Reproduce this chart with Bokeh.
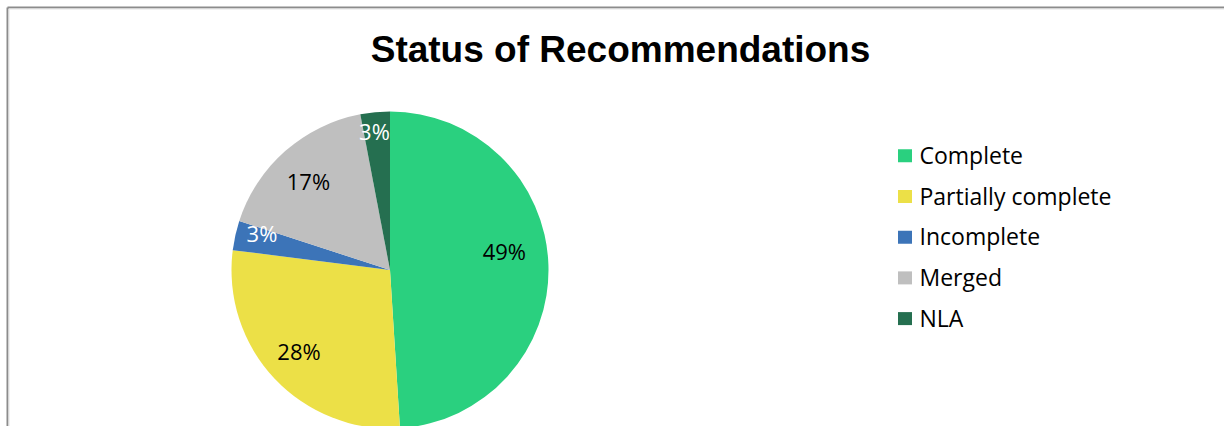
import math
from bokeh.plotting import figure
from bokeh.models import Range1d, ColumnDataSource
from bokeh.core.properties import value
from bokeh.embed import file_html
from bokeh.resources import INLINE

# ---- data ----
title_text = "Status of Recommendations"
categories = ["Complete", "Partially complete", "Incomplete", "Merged", "NLA"]
shares = [49, 28, 3, 17, 3]
colors = ["#2AD07F", "#ECE047", "#3C74B8", "#BFBFBF", "#256F50"]
label_colors = ["black", "black", "white", "black", "white"]

# ---- layout / style ----
W, H = 1224, 426
cx, cy, R = 389.5, -269.5, 158.5
label_rfrac = [0.73, 0.77, 0.84, 0.76, 0.88]
label_nudge_deg = [7.1, -1.4, -3.3, 1.2, 1.0]
BASE_FIX = 0.39  # empirical baseline correction (em)

p = figure(width=W, height=H, output_backend="svg", toolbar_location=None,
           x_range=Range1d(0, W), y_range=Range1d(-H, 0),
           x_axis_location=None, y_axis_location=None, min_border=0,
           background_fill_color="white", border_fill_color="white")
p.grid.visible = False
p.outline_line_color = None

# chart border (left and top edges only visible)
p.segment(x0=[7, 7], y0=[-7, -7], x1=[7, W], y1=[-H, -7],
          line_color="#8C8C8C", line_width=2)
p.segment(x0=[8.5, 8.5], y0=[-8.5, -8.5], x1=[8.5, W], y1=[-H, -8.5],
          line_color="#E3E3E3", line_width=1)

# pie
total = float(sum(shares))
lab_fs = 22
cum = 0.0
starts, ends, lx, ly = [], [], [], []
for i, s in enumerate(shares):
    a0 = math.pi / 2 - 2 * math.pi * cum / total
    cum += s
    a1 = math.pi / 2 - 2 * math.pi * cum / total
    starts.append(a1)
    ends.append(a0)
    mid = (a0 + a1) / 2 + math.radians(label_nudge_deg[i])
    r = label_rfrac[i] * R
    lx.append(cx + r * math.cos(mid))
    ly.append(cy + r * math.sin(mid) - 0.357 * lab_fs + BASE_FIX * lab_fs)

src = ColumnDataSource(dict(start=starts, end=ends, color=colors,
                            lx=lx, ly=ly, lab=[f"{s}%" for s in shares],
                            lcol=label_colors))
p.wedge(x=cx, y=cy, radius=R, start_angle="start", end_angle="end",
        direction="anticlock", fill_color="color", line_color=None, source=src)
p.text(x="lx", y="ly", text="lab", text_color="lcol", source=src,
       text_font=value("Open Sans"), text_font_size=f"{lab_fs}px",
       text_align="center", text_baseline="alphabetic")

# title
t_fs = 37
p.text(x=[620], y=[-63.7 + BASE_FIX * t_fs], text=[title_text],
       text_font=value("Liberation Sans"), text_font_style="bold",
       text_font_size=f"{t_fs}px", text_color="black",
       text_align="center", text_baseline="alphabetic")

# legend
lg_fs = 23
row_y = [-(155.3 + i * 40.7) for i in range(len(categories))]
p.rect(x=[904.5] * len(categories), y=row_y, width=14, height=13,
       fill_color=colors, line_color=None)
p.text(x=[919] * len(categories),
       y=[y - 0.357 * lg_fs + BASE_FIX * lg_fs for y in row_y], text=categories,
       text_font=value("Open Sans"), text_font_size=f"{lg_fs}px", text_color="black",
       text_align="left", text_baseline="alphabetic")

open("out.html", "w").write(file_html(p, INLINE))
